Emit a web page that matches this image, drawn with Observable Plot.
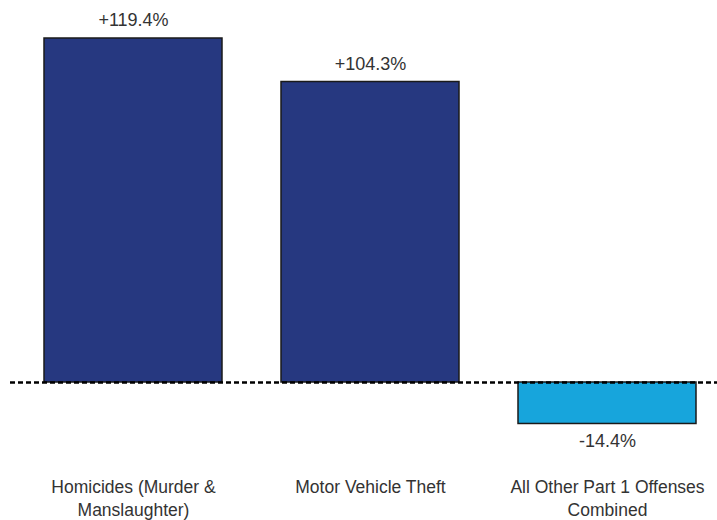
<!DOCTYPE html>
<html>
<head>
<meta charset="utf-8">
<script src="https://cdn.jsdelivr.net/npm/d3@7"></script>
<script src="https://cdn.jsdelivr.net/npm/@observablehq/plot@0.6"></script>
<style>
  html, body { margin: 0; padding: 0; background: #fff; }
  #chart svg { display: block; }
</style>
</head>
<body>
<div id="chart"></div>
<script>
const categories = ["Homicides (Murder &\nManslaughter)", "Motor Vehicle Theft", "All Other Part 1 Offenses\nCombined"];
const values = [119.4, 104.3, -14.4];
const labels = ["+119.4%", "+104.3%", "-14.4%"];
const colors = ["#263880", "#263880", "#17a5dc"];

const data = categories.map((c, i) => ({category: c, value: values[i], label: labels[i], color: colors[i]}));

const chart = Plot.plot({
  width: 717,
  height: 520,
  marginLeft: 22,
  marginRight: 0,
  marginTop: 0,
  marginBottom: 48,
  style: {fontFamily: "'Liberation Sans', Arial, sans-serif", fontSize: "16px", color: "#333"},
  x: {domain: categories, paddingInner: 0.25, paddingOuter: 0.088, label: null},
  y: {domain: [0, 119.4], range: [382, 38], axis: null},
  marks: [
    Plot.barY(data, {x: "category", y: "value", fill: "color", stroke: "#1a1a1a", strokeWidth: 1.5}),
    Plot.ruleY([0], {stroke: "#000", strokeWidth: 2.5, strokeDasharray: "5,3", insetLeft: -12}),
    Plot.text(data, {x: "category", y: "value", text: "label", lineAnchor: "middle",
      dy: -18, fill: "#333", fontSize: 18, filter: d => d.value >= 0}),
    Plot.text(data, {x: "category", y: "value", text: "label", lineAnchor: "middle",
      dy: 17, fill: "#333", fontSize: 18, filter: d => d.value < 0}),
    Plot.axisX({tickSize: 0, tickPadding: 3, fontSize: 17.5, lineHeight: 1.37, fill: "#333", label: null})
  ]
});
document.getElementById("chart").appendChild(chart);
</script>
</body>
</html>
